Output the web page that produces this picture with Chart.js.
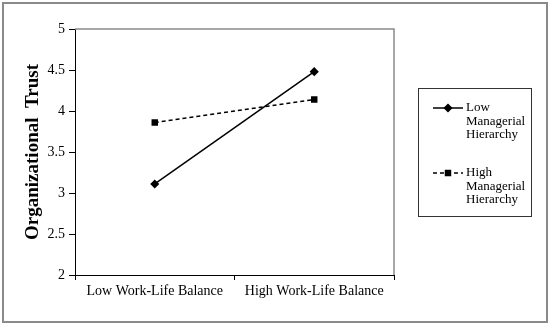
<!DOCTYPE html>
<html>
<head>
<meta charset="utf-8">
<script src="https://cdn.jsdelivr.net/npm/chart.js@4.4.0/dist/chart.umd.min.js"></script>
<style>
  html, body { margin: 0; padding: 0; background: #fff; }
  #wrap { width: 550px; height: 326px; position: relative; }
</style>
</head>
<body>
<div id="wrap"><canvas id="chart" width="550" height="326"></canvas></div>
<script>
// DATA
const categories = ['Low Work-Life Balance', 'High Work-Life Balance'];
const seriesNames = ['Low Managerial Hierarchy', 'High Managerial Hierarchy'];
const lowHierarchy = [3.11, 4.48];
const highHierarchy = [3.86, 4.14];
const yMin = 2, yMax = 5, yStep = 0.5;

const SERIF = "'Liberation Serif', 'Times New Roman', serif";

// frame + top/right plot border + boxed legend
const framePlugin = {
    id: 'frame',
    afterDraw(chart) {
        const ctx = chart.ctx;
        const a = chart.chartArea;
        ctx.save();
        // outer border
        ctx.strokeStyle = '#8a8a8a';
        ctx.lineWidth = 2;
        ctx.strokeRect(3, 3, 544, 319);
        // gray top + right edge of plot
        ctx.strokeStyle = '#8a8a8a';
        ctx.lineWidth = 1.5;
        ctx.beginPath();
        ctx.moveTo(a.left, a.top);
        ctx.lineTo(a.right, a.top);
        ctx.lineTo(a.right, a.bottom);
        ctx.stroke();

        // legend box
        const bx = 418.5, by = 88.5, bw = 113, bh = 128;
        ctx.strokeStyle = '#333';
        ctx.lineWidth = 1;
        ctx.strokeRect(bx, by, bw, bh);

        const rows = [108, 173];
        ctx.font = '13px ' + SERIF;
        ctx.fillStyle = '#000';
        ctx.textBaseline = 'middle';
        chart.data.datasets.forEach((ds, i) => {
            const y = rows[i];
            ctx.strokeStyle = ds.borderColor;
            ctx.lineWidth = ds.borderWidth;
            ctx.setLineDash(ds.borderDash || []);
            ctx.beginPath();
            ctx.moveTo(433, y);
            ctx.lineTo(463, y);
            ctx.stroke();
            ctx.setLineDash([]);
            Chart.helpers.drawPoint(ctx, {
                pointStyle: ds.pointStyle, radius: ds.pointRadius, borderWidth: 1, rotation: 0
            }, 448, y);
            ctx.fillStyle = '#000';
            ds.label.split(' ').forEach((w, k) => {
                ctx.fillText(w, 466, y + k * 13.5);
            });
        });
        ctx.restore();
    }
};

new Chart(document.getElementById('chart'), {
    type: 'line',
    data: {
        labels: categories,
        datasets: [{
            label: seriesNames[0],
            data: lowHierarchy,
            borderColor: '#000',
            backgroundColor: '#000',
            borderWidth: 1.5,
            pointStyle: 'rectRot',
            pointRadius: 3.5,
            pointBackgroundColor: '#000',
            pointBorderColor: '#000',
            tension: 0
        }, {
            label: seriesNames[1],
            data: highHierarchy,
            borderColor: '#000',
            backgroundColor: '#000',
            borderWidth: 1.5,
            borderDash: [4, 3],
            pointStyle: 'rect',
            pointRadius: 3.5,
            pointBackgroundColor: '#000',
            pointBorderColor: '#000',
            tension: 0
        }]
    },
    options: {
        responsive: false,
        animation: false,
        layout: { padding: { left: 0, top: 29, right: 156, bottom: 4 } },
        plugins: { legend: { display: false }, tooltip: { enabled: false } },
        scales: {
            x: {
                offset: true,
                grid: { offset: true, drawOnChartArea: false, tickLength: 5, color: '#000' },
                border: { color: '#000', width: 1 },
                ticks: { color: '#000', padding: 3, font: { family: SERIF, size: 14 } },
                afterFit(s) { s.height = 47; }
            },
            y: {
                min: yMin,
                max: yMax,
                grid: { drawOnChartArea: false, tickLength: 6, color: '#000' },
                border: { color: '#000', width: 1 },
                ticks: {
                    stepSize: yStep, color: '#000', padding: 4,
                    font: { family: SERIF, size: 14 },
                    callback: (v) => String(v)
                },
                title: {
                    display: true,
                    text: 'Organizational  Trust',
                    color: '#000',
                    padding: { top: 22, bottom: 0 },
                    font: { family: SERIF, size: 19, weight: 'bold' }
                },
                afterFit(s) { s.width = 75; }
            }
        }
    },
    plugins: [framePlugin]
});
</script>
</body>
</html>
